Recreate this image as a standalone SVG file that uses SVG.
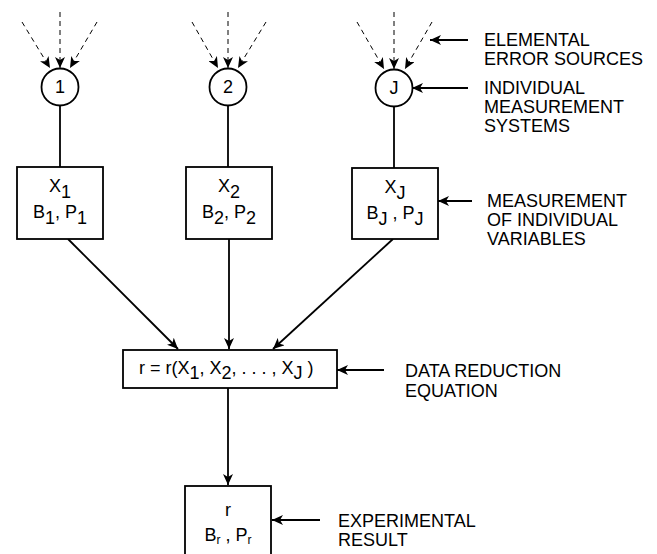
<svg xmlns="http://www.w3.org/2000/svg" width="657" height="554" viewBox="0 0 657 554">
<style>
text{font-family:"Liberation Sans",Arial,sans-serif;font-size:18px;fill:#000}
.c{text-anchor:middle}
.n{fill:#fff;stroke:#000;stroke-width:1.8}
.s{stroke:#000;stroke-width:1.8;fill:none}
.d{stroke:#000;stroke-width:1;fill:none;stroke-dasharray:5,4}
.a{marker-end:url(#ah)}
</style>
<defs>
<marker id="ah" markerUnits="userSpaceOnUse" markerWidth="12" markerHeight="10" refX="11" refY="5" orient="auto">
<path d="M0,0 L11,5 L0,10 L3,5 z" fill="#000"/>
</marker>
</defs>
<rect width="657" height="554" fill="#fff"/>
<g id="connectors">
<line class="d a" x1="22" y1="22" x2="50" y2="68"/>
<line class="d a" x1="60" y1="12" x2="60" y2="68"/>
<line class="d a" x1="97" y1="22" x2="70" y2="68"/>
<line class="d a" x1="192" y1="22" x2="218" y2="68"/>
<line class="d a" x1="228" y1="12" x2="228" y2="68"/>
<line class="d a" x1="266" y1="22" x2="238" y2="68"/>
<line class="d a" x1="357" y1="22" x2="384" y2="69"/>
<line class="d a" x1="394" y1="12" x2="394" y2="69"/>
<line class="d a" x1="432" y1="22" x2="405" y2="69"/>
<line class="s" x1="60" y1="105" x2="60" y2="167"/>
<line class="s" x1="228" y1="105" x2="228" y2="167"/>
<line class="s" x1="394" y1="106" x2="394" y2="168"/>
<line class="s a" x1="68" y1="239" x2="178" y2="349"/>
<line class="s a" x1="229" y1="239" x2="229" y2="349"/>
<line class="s a" x1="393" y1="239" x2="273" y2="349"/>
<line class="s a" x1="228" y1="388" x2="228" y2="485"/>
<line class="s a" x1="468" y1="40" x2="430" y2="40"/>
<line class="s a" x1="468" y1="88" x2="412" y2="88"/>
<line class="s a" x1="472" y1="201" x2="438" y2="201"/>
<line class="s a" x1="384" y1="370" x2="337" y2="370"/>
<line class="s a" x1="320" y1="520" x2="272" y2="520"/>
</g>
<g id="sys1"><circle class="n" cx="60" cy="87" r="18.5"/><text class="c" x="60" y="93">1</text></g>
<g id="sys2"><circle class="n" cx="228" cy="87" r="18.5"/><text class="c" x="228" y="93">2</text></g>
<g id="sysJ"><circle class="n" cx="394" cy="88" r="18.5"/><text class="c" x="394" y="94">J</text></g>
<g id="var1"><rect class="n" x="17" y="167" width="86" height="72"/>
<text class="c" x="60" y="192">X<tspan dy="6">1</tspan></text>
<text class="c" x="60" y="218">B<tspan dy="6">1</tspan><tspan dy="-6">, P</tspan><tspan dy="6">1</tspan></text></g>
<g id="var2"><rect class="n" x="186" y="167" width="86" height="72"/>
<text class="c" x="229" y="192">X<tspan dy="6">2</tspan></text>
<text class="c" x="229" y="218">B<tspan dy="6">2</tspan><tspan dy="-6">, P</tspan><tspan dy="6">2</tspan></text></g>
<g id="varJ"><rect class="n" x="352" y="168" width="86" height="71"/>
<text class="c" x="395" y="193">X<tspan dy="6">J</tspan></text>
<text class="c" x="395" y="219">B<tspan dy="6">J</tspan><tspan dy="-6"> , P</tspan><tspan dy="6">J</tspan></text></g>
<g id="dre"><rect class="n" x="123" y="350" width="214" height="38"/>
<text x="139" y="374">r = r(X<tspan dy="5">1</tspan><tspan dy="-5">, X</tspan><tspan dy="5">2</tspan><tspan dy="-5">, . . . , X</tspan><tspan dy="5">J</tspan><tspan dy="-5"> )</tspan></text></g>
<g id="result"><rect class="n" x="185" y="486" width="86" height="74"/>
<text class="c" x="228" y="516">r</text>
<text class="c" x="228" y="541">B<tspan font-size="12" dy="3">r</tspan><tspan dy="-3"> , P</tspan><tspan font-size="12" dy="3">r</tspan></text></g>
<g id="labels">
<text x="484" y="46">ELEMENTAL</text>
<text x="484" y="65">ERROR SOURCES</text>
<text x="484" y="94">INDIVIDUAL</text>
<text x="484" y="113">MEASUREMENT</text>
<text x="484" y="132">SYSTEMS</text>
<text x="487" y="207">MEASUREMENT</text>
<text x="487" y="226">OF INDIVIDUAL</text>
<text x="487" y="245">VARIABLES</text>
<text x="405" y="377">DATA REDUCTION</text>
<text x="405" y="397">EQUATION</text>
<text x="338" y="527">EXPERIMENTAL</text>
<text x="338" y="546">RESULT</text>
</g>
</svg>
